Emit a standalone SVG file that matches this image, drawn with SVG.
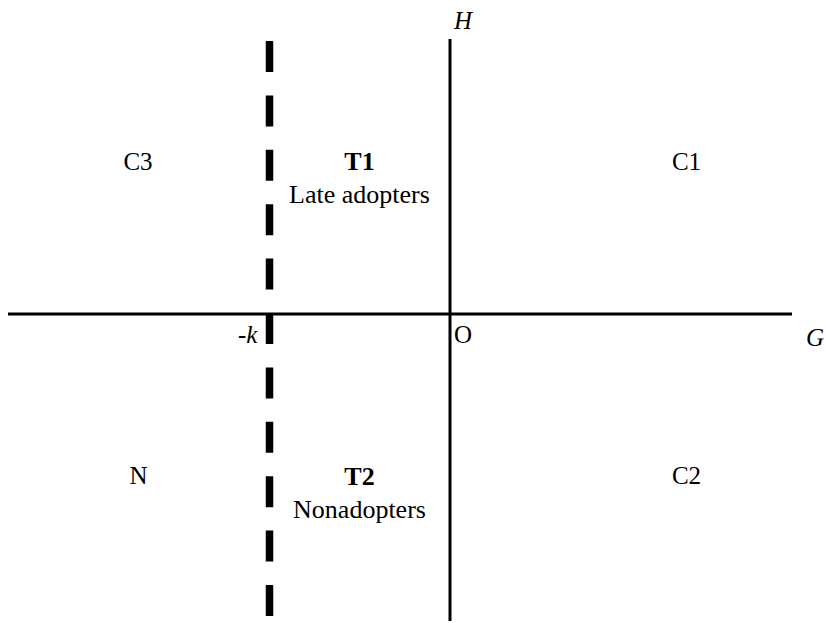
<svg xmlns="http://www.w3.org/2000/svg" width="826" height="623" viewBox="0 0 826 623">
<style>
text{font-family:"Liberation Serif","Times New Roman",serif;fill:#000;font-size:25px}
.c{text-anchor:middle}
.b{font-weight:bold}
.i{font-style:italic}
.t{font-size:26px}
.axis{stroke:#000;stroke-width:3;fill:none}
.dash{stroke:#000;stroke-width:7.5;fill:none;stroke-dasharray:31 23.4}
</style>
<rect width="826" height="623" fill="#fff"/>
<g id="connectors">
<line class="axis" x1="8" y1="314" x2="792" y2="314"/>
<line class="axis" x1="450" y1="39" x2="450" y2="621"/>
<line class="dash" x1="269.5" y1="41" x2="269.5" y2="617"/>
</g>
<g id="axis-H"><text class="i" x="454" y="29" font-size="26">H</text></g>
<g id="axis-G"><text class="i" x="824" y="346" font-size="26" text-anchor="end">G</text></g>
<g id="origin"><text x="454" y="343">O</text></g>
<g id="minus-k"><text x="238" y="343">-<tspan class="i">k</tspan></text></g>
<g id="C3"><text class="c" x="138" y="170">C3</text></g>
<g id="C1"><text class="c" x="686.5" y="170">C1</text></g>
<g id="N"><text class="c" x="138.5" y="484">N</text></g>
<g id="C2"><text class="c" x="686.5" y="484">C2</text></g>
<g id="T1"><text class="c b t" x="359.5" y="170">T1</text><text class="c t" x="359.5" y="203">Late adopters</text></g>
<g id="T2"><text class="c b t" x="359.5" y="485">T2</text><text class="c t" x="359.5" y="518">Nonadopters</text></g>
</svg>
